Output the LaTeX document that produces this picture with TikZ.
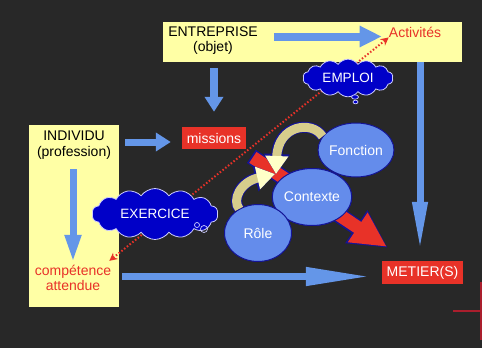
\documentclass[tikz,border=0pt]{standalone}
\usepackage{fontspec}
\setmainfont{Liberation Sans}
\usetikzlibrary{arrows.meta,shapes.symbols,shapes.geometric,positioning,calc}

\definecolor{fond}{RGB}{40,40,40}
\definecolor{jaune}{RGB}{255,255,165}
\definecolor{bleu}{RGB}{100,150,232}
\definecolor{rouge}{RGB}{232,50,40}
\definecolor{nuage}{RGB}{0,0,200}
\definecolor{rond}{RGB}{100,140,235}
\definecolor{bord}{RGB}{20,20,150}
\definecolor{kaki}{RGB}{215,205,140}
\definecolor{pale}{RGB}{255,255,200}
\definecolor{rougefonce}{RGB}{170,30,45}

\tikzset{
  texte/.style={inner sep=0pt, align=center},
  jboite/.style={fill=jaune, inner sep=0pt},
  etiq/.style={fill=rouge, text=white, inner sep=0pt},
  bulle/.style={cloud, cloud puffs=14, cloud puff arc=110, aspect=2.4, fill=nuage,
    draw=white!80!blue, line width=0.8pt, text=white, inner sep=0pt,
    font=\fontsize{13.5}{15}\selectfont},
  rondo/.style={ellipse, fill=rond, draw=bord, line width=1pt, text=white, inner sep=0pt},
  fleche/.style={draw=bleu, line width=#1},
  courbe/.style={kaki, line width=9pt, -{Triangle[width=22pt,length=18pt,fill=pale,color=pale]},
    preaction={draw=bord, line width=11pt, -{Triangle[width=25pt,length=20pt]}}}
}

\begin{document}
\begin{tikzpicture}[x=1pt,y=-1pt,font=\fontsize{14}{15.5}\selectfont]
  \fill[fond] (0,0) rectangle (482,348);
  \useasboundingbox (0,0) rectangle (482,348);

  % boites jaunes
  \node[jboite, minimum width=299pt, minimum height=40pt] (entbox) at (312.5,42) {};
  \node[jboite, minimum width=90pt, minimum height=182pt] (indbox) at (74,216) {};

  \node[texte] (entreprise) at (213,40.5) {ENTREPRISE\\(objet)};
  \node[texte, text=rouge] (activites) at (415,32) {Activités};
  \node[texte] (individu) at (74,145) {INDIVIDU\\(profession)};
  \node[texte, text=rouge] (competence) at (73,278) {compétence\\attendue};

  \node[etiq, minimum width=64pt, minimum height=22pt] (missions) at (214,138) {missions};
  \node[etiq, minimum width=81pt, minimum height=23pt] (metier) at (422.5,272.5) {METIER(S)};

  % pointilles
  \draw[rouge, line width=2pt, dash pattern=on 1.5pt off 2pt, {Stealth[length=8pt,width=8pt]}-{Stealth[length=8pt,width=8pt]}]
    ([shift={(-2pt,4pt)}]competence.north east) -- (activites.south west);

  % fleches bleues
  \draw[fleche=8pt, -{Triangle[width=20pt,length=22pt]}]
    ([xshift=16pt,yshift=4pt]entreprise.east) -- ([xshift=-7pt,yshift=4pt]entreprise.east -| activites.west);
  \draw[fleche=8pt, -{Triangle[width=18pt,length=15pt]}]
    ([yshift=-6pt]entbox.south -| missions) -- ([yshift=15pt]missions.north);
  \draw[fleche=7pt, -{Triangle[width=18pt,length=15pt]}]
    ([xshift=6pt,yshift=-4pt]indbox.east |- missions.west) -- ([xshift=-11pt,yshift=-4pt]missions.west);
  \draw[fleche=7pt, -{Triangle[width=15pt,length=28pt]}]
    ([yshift=-10pt]individu.south -| competence) -- ([yshift=2pt]competence.north);
  \draw[fleche=7pt, -{Triangle[width=14pt,length=50pt]}]
    ([xshift=-2.5pt]entbox.south -| metier) -- ([xshift=-2.5pt,yshift=9pt]metier.north);
  \draw[fleche=7.5pt, -{Triangle[width=17pt,length=66pt]}]
    ([xshift=3pt,yshift=-4pt]indbox.east |- metier.west) -- ([xshift=-10pt,yshift=-4pt]metier.west);

  % nuages
  \node[bulle, minimum width=90pt, minimum height=34pt] (emploi) at (348,78) {EMPLOI};
  \draw[fill=nuage, draw=white!80!blue, line width=0.7pt] (355,97) ellipse (3.5pt and 2.2pt);
  \draw[fill=nuage, draw=white!80!blue, line width=0.7pt] (355.5,102) ellipse (2.5pt and 1.8pt);
  \node[bulle, minimum width=126pt, minimum height=46pt] (exercice) at (155,214) {EXERCICE};
  \draw[draw=white!80!blue, line width=0.7pt] (197,225) circle (2.5pt);
  \draw[draw=white!80!blue, line width=0.7pt] (204,229) circle (3.5pt);

  % fleche rouge
  \node[rondo, minimum width=69pt, minimum height=57pt] (contexte) at (312,197) {Contexte};
  \coordinate (pointe) at ([shift={(6pt,13pt)}]metier.north west);
  \draw[bord, line width=16pt, -{Triangle[width=37pt,length=38pt]}]
    ($(pointe)!1.8!(contexte)$) -- (pointe);
  \draw[rouge, line width=13pt, -{Triangle[width=33pt,length=35pt]}]
    ($(pointe)!1.78!(contexte)$) -- ([shift={(-1pt,1pt)}]pointe);

  % ronds
  \node[rondo, minimum width=68pt, minimum height=54pt] (fonction) at (356,150) {Fonction};
  \node[rondo, minimum width=69pt, minimum height=57pt] at (312,197) {Contexte};
  \node[rondo, minimum width=67pt, minimum height=57pt] (role) at (258,233) {Rôle};

  % fleches courbes
  \draw[courbe] (fonction.158) .. controls (312,120) and (278,125) .. (276,174);
  \draw[courbe] (role.128) .. controls (232,200) and (240,182) .. (275,174);

  % reste en bas a droite
  \draw[rougefonce, line width=1.5pt] (481,282) -- (481,340);
  \draw[rougefonce, line width=1.5pt] (453,311) -- (482,311);
\end{tikzpicture}
\end{document}
